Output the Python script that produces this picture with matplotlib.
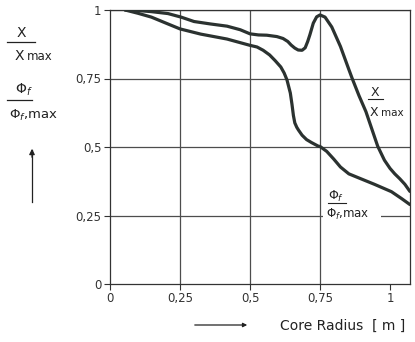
import matplotlib
matplotlib.use("Agg")
import matplotlib.pyplot as plt
from matplotlib.lines import Line2D
from matplotlib.patches import Rectangle

# curve: X / X_max
chi_r = [0.054, 0.10, 0.148, 0.207, 0.254, 0.30, 0.359, 0.418, 0.465, 0.50,
         0.53, 0.56, 0.596, 0.618, 0.635, 0.647, 0.66, 0.672, 0.686, 0.697,
         0.706, 0.714, 0.726, 0.738, 0.75, 0.768, 0.792, 0.823, 0.853, 0.865,
         0.889, 0.914, 0.938, 0.956, 0.98, 1.0, 1.017, 1.035, 1.053, 1.071]
chi_v = [1.0, 0.998, 0.994, 0.987, 0.974, 0.958, 0.949, 0.941, 0.928, 0.913,
         0.909, 0.908, 0.903, 0.896, 0.885, 0.872, 0.861, 0.854, 0.853, 0.862,
         0.885, 0.910, 0.952, 0.975, 0.982, 0.974, 0.938, 0.867, 0.783, 0.75,
         0.688, 0.629, 0.557, 0.503, 0.452, 0.422, 0.402, 0.384, 0.364, 0.338]

# curve: Phi_f / Phi_f,max
phi_r = [0.054, 0.10, 0.148, 0.20, 0.25, 0.324, 0.418, 0.50, 0.525, 0.547,
         0.57, 0.59, 0.61, 0.622, 0.632, 0.644, 0.65, 0.655, 0.66, 0.667,
         0.673, 0.686, 0.702, 0.72, 0.744, 0.75, 0.774, 0.799, 0.823, 0.853,
         0.896, 0.944, 1.005, 1.041, 1.071]
phi_v = [1.0, 0.988, 0.974, 0.952, 0.931, 0.912, 0.894, 0.871, 0.865, 0.853,
         0.836, 0.815, 0.792, 0.77, 0.745, 0.697, 0.655, 0.615, 0.588, 0.572,
         0.562, 0.543, 0.527, 0.516, 0.503, 0.502, 0.484, 0.456, 0.427, 0.402,
         0.384, 0.364, 0.337, 0.312, 0.29]

xticks = [0, 0.25, 0.5, 0.75, 1.0]
xtick_labels = ["0", "0,25", "0,5", "0,75", "1"]
yticks = [0, 0.25, 0.5, 0.75, 1.0]
ytick_labels = ["0", "0,25", "0,5", "0,75", "1"]

W, H = 415, 342
fig = plt.figure(figsize=(W / 100, H / 100), dpi=100)

def fx(px):
    return px / W

def fy(py):
    return 1 - py / H

ax = fig.add_axes([fx(110), fy(284), 300 / W, 274 / H])
ax.set_xlim(0, 1.0714)
ax.set_ylim(0, 1)

ink = "#2b3230"
ax.plot(chi_r, chi_v, color=ink, lw=2.3, solid_capstyle="round", solid_joinstyle="round", zorder=3)
ax.plot(phi_r, phi_v, color=ink, lw=2.3, solid_capstyle="round", solid_joinstyle="round", zorder=3)

ax.set_xticks(xticks)
ax.set_xticklabels(xtick_labels)
ax.set_yticks(yticks)
ax.set_yticklabels(ytick_labels)
ax.tick_params(direction="out", length=4, width=0.8, colors="#333333", labelsize=8.5, pad=2)

# grid: horizontal at each y tick, vertical at 0.25 / 0.5 / 0.75
for y in yticks[1:]:
    ax.axhline(y, color="#4d4d4d", lw=0.9, zorder=1)
for x in xticks[1:4]:
    ax.axvline(x, color="#4d4d4d", lw=0.9, zorder=1)

for s in ax.spines.values():
    s.set_color("#333333")
    s.set_linewidth(0.9)

txt = dict(color="#222222", ha="center", va="center")

# left axis label block
fig.text(fx(21), fy(33), "X", fontsize=10, **txt)
fig.add_artist(Line2D([fx(7), fx(35)], [fy(42), fy(42)], transform=fig.transFigure, color="#222222", lw=0.9))
fig.text(fx(19), fy(56), "X", fontsize=10, **txt)
fig.text(fx(40), fy(57), "max", fontsize=8.5, **txt)

fig.text(fx(24), fy(90), r"$\Phi_f$", fontsize=10, **txt)
fig.add_artist(Line2D([fx(7), fx(32)], [fy(100), fy(100)], transform=fig.transFigure, color="#222222", lw=0.9))
fig.text(fx(33), fy(115), r"$\Phi_f$,max", fontsize=9.5, **txt)

fig.add_artist(Line2D([fx(32), fx(32)], [fy(202), fy(150)], transform=fig.transFigure, color="#222222", lw=0.9))
ax.annotate("", xy=(fx(32), fy(146)), xytext=(fx(32), fy(160)), xycoords="figure fraction",
            arrowprops=dict(arrowstyle="-|>", color="#222222", lw=0.9, mutation_scale=8))

# bottom axis label
ax.annotate("", xy=(fx(250), fy(325)), xytext=(fx(192), fy(325)), xycoords="figure fraction",
            arrowprops=dict(arrowstyle="-|>", color="#222222", lw=0.9, mutation_scale=6))
fig.text(fx(343), fy(326), "Core Radius  [ m ]", fontsize=10, **txt)

# curve labels on the right
fig.text(fx(375), fy(92), "X", fontsize=9, **txt)
fig.add_artist(Line2D([fx(368), fx(383)], [fy(99), fy(99)], transform=fig.transFigure, color="#222222", lw=0.8))
fig.text(fx(374), fy(112), "X", fontsize=9, **txt)
fig.text(fx(392), fy(113), "max", fontsize=7.5, **txt)

fig.add_artist(Rectangle((fx(323), fy(221)), 58 / W, 12 / H, transform=fig.transFigure,
                         facecolor="white", edgecolor="none", zorder=2))
fig.text(fx(336), fy(196), r"$\Phi_f$", fontsize=9, zorder=3, **txt)
fig.add_artist(Line2D([fx(328), fx(346)], [fy(203), fy(203)], transform=fig.transFigure, color="#222222", lw=0.8, zorder=3))
fig.text(fx(348), fy(214), r"$\Phi_f$,max", fontsize=8.5, zorder=3, **txt)

fig.savefig("out.png", dpi=100, facecolor="white")
